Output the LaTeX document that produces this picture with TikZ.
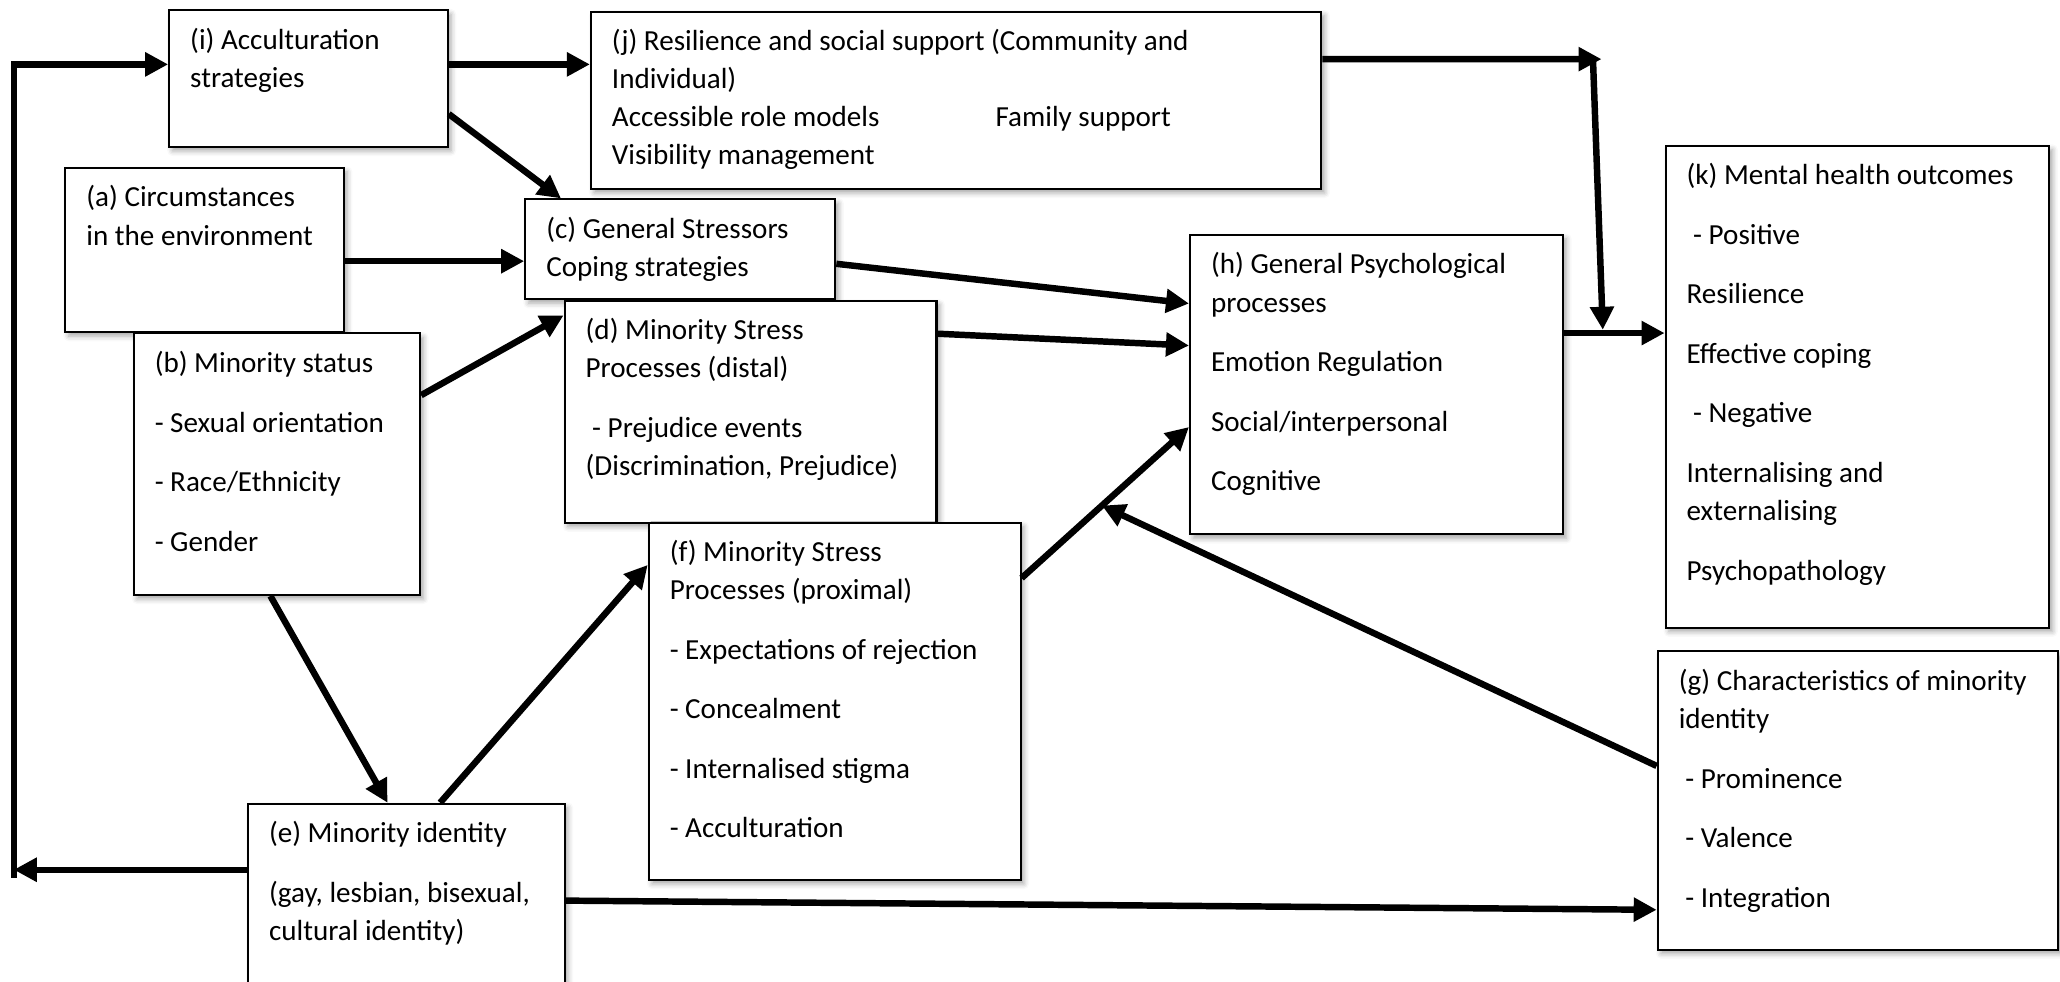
\documentclass[tikz,border=0pt]{standalone}
\usepackage{fontspec}
\setmainfont{Carlito}
\usetikzlibrary{arrows.meta,calc,shadows.blur}
\newcommand{\boxtext}[3]{\parbox[t][\dimexpr#2-0.54cm\relax][t]{\dimexpr#1-0.64cm\relax}{\raggedright#3}}
\newcommand{\gap}{\\[9.3pt]}

\begin{document}
\begin{tikzpicture}
        \tikzset{box/.style={draw,line width=0.9pt,fill=white,anchor=north west,
            inner xsep=0.32cm,inner ysep=0.27cm,
            blur shadow={shadow xshift=0.05cm,shadow yshift=-0.06cm,
              shadow blur radius=0.08cm,shadow opacity=35},
            font=\fontsize{12.6}{16.5}\selectfont},
          arr/.style={line width=2.8pt,-{Triangle[length=0.35cm,width=0.35cm]}}}
        \useasboundingbox (0,0) rectangle (31.36,-14.94);
        \node[box] (i) at (2.56,-0.14) {\boxtext{4.24cm}{2.08cm}{(i) Acculturation\\strategies}};
        \node[box] (j) at (8.98,-0.16) {\boxtext{11.12cm}{2.70cm}{(j) Resilience and social support (Community and\\Individual)\\\makebox[5.84cm][l]{Accessible role models}Family support\\Visibility management}};
        \node[box] (a) at (0.98,-2.54) {\boxtext{4.24cm}{2.50cm}{(a) Circumstances\\in the environment}};
        \node[box] (b) at (2.02,-5.06) {\boxtext{4.36cm}{3.98cm}{(b) Minority status\gap - Sexual orientation\gap - Race/Ethnicity\gap - Gender}};
        \node[box] (c) at (7.98,-3.02) {\boxtext{4.72cm}{1.52cm}{(c) General Stressors\\Coping strategies}};
        \node[box] (d) at (8.58,-4.56) {\boxtext{5.66cm}{3.38cm}{(d) Minority Stress\\Processes (distal)\gap\hspace*{0.1cm}- Prejudice events\\(Discrimination, Prejudice)}};
        \node[box] (f) at (9.86,-7.94) {\boxtext{5.66cm}{5.44cm}{(f) Minority Stress\\Processes (proximal)\gap - Expectations of rejection\gap - Concealment\gap - Internalised stigma\gap - Acculturation}};
        \node[box] (h) at (18.10,-3.56) {\boxtext{5.68cm}{4.56cm}{(h) General Psychological\\processes\gap Emotion Regulation\gap Social/interpersonal\gap Cognitive}};
        \node[box] (k) at (25.34,-2.20) {\boxtext{5.84cm}{7.34cm}{(k) Mental health outcomes\gap\hspace*{0.1cm}- Positive\gap Resilience\gap Effective coping\gap\hspace*{0.1cm}- Negative\gap Internalising and\\externalising\gap Psychopathology}};
        \node[box] (e) at (3.76,-12.22) {\boxtext{4.82cm}{3.20cm}{(e) Minority identity\gap(gay, lesbian, bisexual,\\cultural identity)}};
        \node[box] (g) at (25.22,-9.90) {\boxtext{6.10cm}{4.54cm}{(g) Characteristics of minority\\identity\gap\hspace*{0.1cm}- Prominence\gap\hspace*{0.1cm}- Valence\gap\hspace*{0.1cm}- Integration}};
        \coordinate (lb) at (0.21,-13.24);
        \coordinate (lt) at (0.21,-0.98);
        \draw[arr] (lb -| e.west) -- (lb);
        \draw[arr] ([yshift=-0.12cm]lb) -- (lt) -- (lt -| i.west);
        \draw[arr] (lt -| i.east) -- (lt -| j.west);
        \draw[arr] ([yshift=-0.54cm]i.east) -- ([xshift=0.56cm]c.north west);
        \draw[arr] ([yshift=-0.17cm]a.east) -- ([yshift=-0.17cm]a.east -| c.west);
        \draw[arr] ([yshift=1.05cm]b.east) -- ([yshift=-0.24cm]d.north west);
        \draw[arr] ([yshift=-0.22cm]c.east) -- ([yshift=-1.06cm]h.north west);
        \draw[arr] ([yshift=-0.52cm]d.north east) -- ([yshift=-1.70cm]h.north west);
        \draw[arr] ([xshift=-0.10cm]b.south) -- ([xshift=2.14cm]e.north west);
        \draw[arr] ([xshift=2.94cm]e.north west) -- ([yshift=-0.66cm]f.north west);
        \coordinate (fh1) at ([yshift=-0.86cm]f.north east);
        \coordinate (fh2) at ([yshift=-2.94cm]h.north west);
        \draw[arr] (fh1) -- (fh2);
        \draw[arr] ([yshift=-1.76cm]g.north west) -- ($(fh1)!0.48!(fh2)$);
        \draw[arr] ([yshift=-1.49cm]e.north east) -- ([yshift=-3.95cm]g.north west);
        \coordinate (hk) at ([yshift=-1.51cm]h.north east);
        \draw[arr] (hk) -- (hk -| k.west);
        \coordinate (jk) at (24.38,-0.90);
        \coordinate (jtop) at (24.25,-0.90);
        \coordinate (kdown) at (24.40,-5.02);
        \draw[arr] ([yshift=-0.74cm]j.north east) -- (jk);
        \draw[arr] (jtop) -- (kdown);
      \end{tikzpicture}
\end{document}
